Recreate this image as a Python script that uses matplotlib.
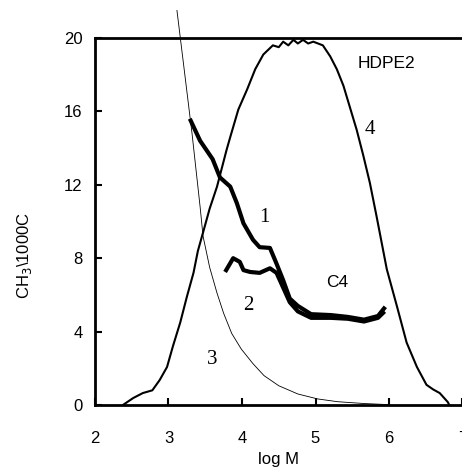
import matplotlib
matplotlib.use("Agg")
import matplotlib.pyplot as plt
import numpy as np

plt.rcParams["font.family"] = ["Liberation Sans", "DejaVu Sans"]

# ---------------- data ----------------
# curve 1: CH3/1000C, fraction 1 (thick)
x1 = [3.29, 3.43, 3.60, 3.70, 3.84, 3.93, 4.02, 4.15, 4.24, 4.38, 4.47, 4.56,
      4.65, 4.76, 4.94, 5.21, 5.44, 5.66, 5.85, 5.95]
y1 = [15.6, 14.4, 13.4, 12.4, 11.9, 11.0, 9.9, 9.0, 8.6, 8.56, 7.7, 6.8,
      5.8, 5.4, 4.95, 4.9, 4.8, 4.65, 4.85, 5.35]

# curve 2: CH3/1000C, fraction 2 (thick)
x2 = [3.77, 3.88, 3.97, 4.02, 4.11, 4.24, 4.38, 4.47, 4.56, 4.65, 4.76, 4.94,
      5.21, 5.44, 5.66, 5.85, 5.94]
y2 = [7.25, 8.0, 7.8, 7.35, 7.25, 7.2, 7.45, 7.2, 6.4, 5.6, 5.1, 4.75,
      4.75, 4.7, 4.55, 4.75, 5.1]

# curve 3: thin decaying line
x3 = [3.115, 3.21, 3.32, 3.43, 3.47, 3.56, 3.66, 3.75, 3.86, 3.99, 4.15, 4.30,
      4.50, 4.76, 5.03, 5.30, 5.66, 6.00]
y3 = [21.5, 18.4, 14.8, 10.8, 9.2, 7.5, 6.1, 5.0, 3.9, 3.05, 2.25, 1.6,
      1.05, 0.6, 0.33, 0.18, 0.08, 0.02]

# curve 4: molecular weight distribution
x4 = [2.38, 2.52, 2.65, 2.78, 2.88, 2.98, 3.06, 3.16, 3.25, 3.34, 3.40, 3.47,
      3.56, 3.66, 3.79, 3.84, 3.95, 4.07, 4.18, 4.29, 4.42, 4.50, 4.56, 4.63,
      4.70, 4.76, 4.83, 4.90, 4.97, 5.10, 5.20, 5.29, 5.38, 5.47, 5.56, 5.65,
      5.74, 5.83, 5.97, 6.11, 6.24, 6.38, 6.51, 6.60, 6.69, 6.80, 6.82]
y4 = [0.0, 0.38, 0.65, 0.8, 1.36, 2.07, 3.2, 4.5, 5.9, 7.2, 8.4, 9.4,
      10.7, 11.9, 13.9, 14.6, 16.1, 17.2, 18.3, 19.1, 19.6, 19.5, 19.8, 19.6,
      19.9, 19.7, 19.9, 19.7, 19.8, 19.6, 19.0, 18.3, 17.4, 16.2, 15.0, 13.6,
      12.1, 10.3, 7.4, 5.35, 3.4, 2.07, 1.1, 0.85, 0.65, 0.16, 0.0]

xticks = [2, 3, 4, 5, 6, 7]
yticks = [0, 4, 8, 12, 16, 20]

# ---------------- figure ----------------
fig = plt.figure(figsize=(4.62, 4.73), dpi=100)
ax = fig.add_axes([95 / 462, 68 / 473, 367.5 / 462, 367 / 473])

ax.plot(x4, y4, color="black", lw=1.5)
ax.plot(x3, y3, color="black", lw=0.6, clip_on=False)
ax.plot(x2, y2, color="black", lw=3.0, solid_capstyle="butt")
ax.plot(x1, y1, color="black", lw=3.0, solid_capstyle="butt")

ax.set_xlim(2, 7)
ax.set_ylim(0, 20)
ax.set_xticks(xticks)
ax.set_yticks(yticks)
ax.tick_params(direction="in", length=5, width=1.5, labelsize=12)
ax.tick_params(axis="x", pad=19)
ax.tick_params(axis="y", pad=9)
ax.spines["right"].set_visible(False)
for s in ["left", "top", "bottom"]:
    ax.spines[s].set_linewidth(2)

ax.set_xlabel("log M", fontsize=12, labelpad=4)
fig.text(25 / 462, 1 - 255 / 473, r"CH$_3$\1000C", rotation=90,
         fontsize=12, ha="center", va="center")

# curve labels
serif = ["Liberation Serif", "DejaVu Serif"]
ax.text(5.96, 18.6, "HDPE2", fontsize=12.5, ha="center", va="center")
ax.text(5.29, 6.7, "C4", fontsize=12.5, ha="center", va="center")
ax.text(5.74, 15.0, "4", fontsize=15, ha="center", va="center", family=serif)
ax.text(4.31, 10.2, "1", fontsize=15, ha="center", va="center", family=serif)
ax.text(4.08, 5.4, "2", fontsize=15, ha="center", va="center", family=serif)
ax.text(3.59, 2.5, "3", fontsize=15, ha="center", va="center", family=serif)

fig.savefig("out.png", dpi=100)
